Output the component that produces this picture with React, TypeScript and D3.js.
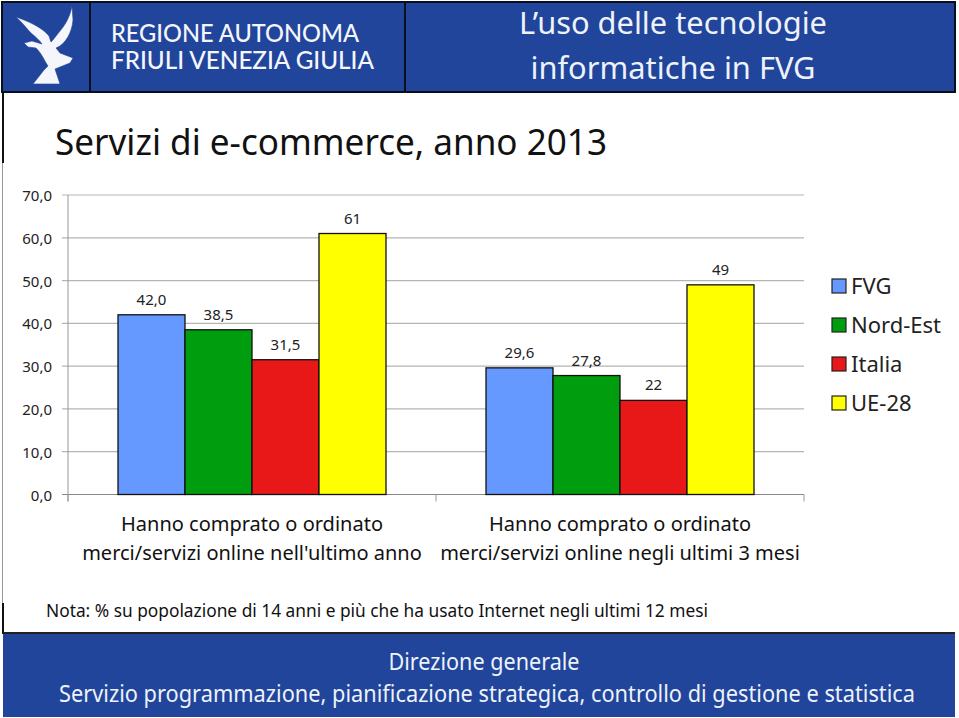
import React from "react";
import * as d3 from "d3";

const categories = ["a", "b"];
const categoryLines = [
  ["Hanno comprato o ordinato", "merci/servizi online nell'ultimo anno"],
  ["Hanno comprato o ordinato", "merci/servizi online negli ultimi 3 mesi"],
];
const seriesNames = ["FVG", "Nord-Est", "Italia", "UE-28"];
const seriesColors = ["#6699ff", "#009e0f", "#e81818", "#ffff00"];
const fvg = [42.0, 29.6];
const nordEst = [38.5, 27.8];
const italia = [31.5, 22];
const ue28 = [61, 49];
const seriesLabels = [["42,0", "29,6"], ["38,5", "27,8"], ["31,5", "22"], ["61", "49"]];
const seriesValues = [fvg, nordEst, italia, ue28];
const yTicks = [0, 10, 20, 30, 40, 50, 60, 70];
const FONT = "'Noto Sans', sans-serif";
const BLUE = "#20459b";

const y = d3.scaleLinear().domain([0, 70]).range([494.5, 195]);
const x0 = d3.scaleBand().domain(categories).range([68, 804]);
const x1 = d3.scaleBand().domain(seriesNames).range([0, 268]);
const fmt = (v: number) => v.toFixed(1).replace(".", ",");

const eagle =
  "M72 6 C70 16 66 24 60 31 C56 36 53 40 51 42 L49 36 C44 30 36 24 16 17 C22 22 26 28 31 33 C36 37 40 41 42 44 L32 41 L24 43 L28 47 L36 48 C42 54 44 60 48 66 L44 70 L33 84 L60 84 L55 69 L70 63 L73 58 L60 53 L56 48 C66 44 72 32 73 20 Z";

export default function App() {
  return (
    <svg width={959} height={718} style={{ position: "absolute", left: 0, top: 0, background: "#fff" }} fontFamily={FONT}>
      {/* header */}
      <rect x={2} y={2} width={953} height={90} fill={BLUE} stroke="#0a0f1e" strokeWidth={2} />
      <line x1={90} x2={90} y1={2} y2={92} stroke="#0a0f1e" strokeWidth={2} />
      <line x1={405} x2={405} y1={2} y2={92} stroke="#0a0f1e" strokeWidth={2} />
      <path d={eagle} fill="#f4f6fb" stroke={BLUE} strokeWidth={0.6} />
      <g fill="#f4f6fb" fontFamily="Lato, sans-serif" fontSize={24.5} fontWeight={500}>
        <text x={111} y={42} textLength={248} lengthAdjust="spacingAndGlyphs">REGIONE AUTONOMA</text>
        <text x={111} y={69} textLength={263} lengthAdjust="spacingAndGlyphs">FRIULI VENEZIA GIULIA</text>
      </g>
      <g fill="#eef2fa" fontSize={31} textAnchor="middle">
        <text x={673} y={34} textLength={308} lengthAdjust="spacingAndGlyphs">L’uso delle tecnologie</text>
        <text x={673} y={79} textLength={285} lengthAdjust="spacingAndGlyphs">informatiche in FVG</text>
      </g>
      {/* frame on the left */}
      <line x1={3} x2={3} y1={92} y2={163} stroke="#111" strokeWidth={2} />
      <line x1={2.5} x2={2.5} y1={163} y2={603} stroke="#999" strokeWidth={1} />
      <line x1={3} x2={3} y1={603} y2={634} stroke="#111" strokeWidth={2} />
      {/* title */}
      <text x={55} y={155} fontSize={37} fill="#111" textLength={552} lengthAdjust="spacingAndGlyphs">Servizi di e-commerce, anno 2013</text>
      {/* grid & axes */}
      {yTicks.map((t) => (
        <g key={t}>
          <line x1={62} x2={804} y1={y(t)} y2={y(t)} stroke={t === 0 ? "#888" : "#b5b5b5"} strokeWidth={1.2} />
          <text x={52} y={y(t) + 6} fontSize={15} fill="#222" textAnchor="end">{fmt(t)}</text>
        </g>
      ))}
      <line x1={68} x2={68} y1={y(70)} y2={y(0) + 7} stroke="#999" />
      {[68, 436, 804].map((px) => (
        <line key={px} x1={px} x2={px} y1={y(0)} y2={y(0) + 7} stroke="#999" />
      ))}
      {/* bars */}
      {categories.map((c, ci) => {
        const cx = x0(c)! + x0.bandwidth() / 2;
        return (
          <g key={c}>
            {seriesNames.map((s, si) => {
              const v = seriesValues[si][ci];
              const bx = cx - 134 + x1(s)!;
              const w = x1.bandwidth();
              return (
                <g key={s}>
                  <rect x={bx} y={y(v)} width={w} height={y(0) - y(v)} fill={seriesColors[si]} stroke="#111" strokeWidth={1.3} />
                  <text x={bx + w / 2} y={y(v) - 10} fontSize={15} fill="#222" textAnchor="middle">{seriesLabels[si][ci]}</text>
                </g>
              );
            })}
            <text x={cx} y={531} fontSize={20} fill="#111" textAnchor="middle">{categoryLines[ci][0]}</text>
            <text x={cx} y={560} fontSize={20} fill="#111" textAnchor="middle">{categoryLines[ci][1]}</text>
          </g>
        );
      })}
      {/* legend */}
      {seriesNames.map((s, i) => (
        <g key={s}>
          <rect x={832} y={279 + i * 39} width={14} height={14} fill={seriesColors[i]} stroke="#222" strokeWidth={1.2} />
          <text x={851} y={294 + i * 39} fontSize={22} fill="#222">{s}</text>
        </g>
      ))}
      {/* note */}
      <text x={46} y={617} fontSize={18.5} fill="#111" textLength={662} lengthAdjust="spacingAndGlyphs">Nota: % su popolazione di 14 anni e più che ha usato Internet negli ultimi 12 mesi</text>
      {/* footer */}
      <rect x={3} y={633} width={952} height={84} fill={BLUE} />
      <line x1={3} x2={955} y1={633} y2={633} stroke="#222" strokeWidth={2} />
      <g fill="#eef2fa" fontSize={23} textAnchor="middle">
        <text x={484} y={670} textLength={191} lengthAdjust="spacingAndGlyphs">Direzione generale</text>
        <text x={487} y={702} textLength={856} lengthAdjust="spacingAndGlyphs">Servizio programmazione, pianificazione strategica, controllo di gestione e statistica</text>
      </g>
    </svg>
  );
}
